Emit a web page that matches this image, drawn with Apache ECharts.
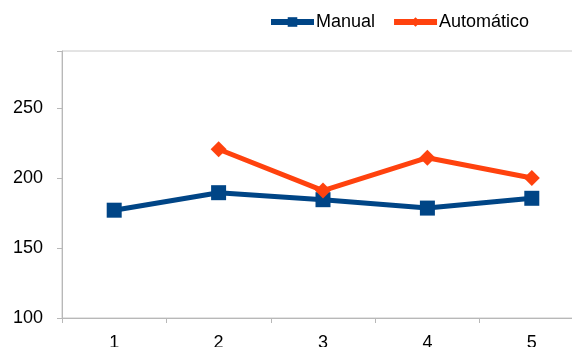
<!DOCTYPE html>
<html>
<head>
    <meta charset="utf-8">
    <title>Manual vs Automático</title>
    <script src="https://cdn.jsdelivr.net/npm/echarts@6/dist/echarts.min.js"></script>
</head>
<body style="margin:0;background:#fff;overflow:hidden;">
    <!-- plot area runs past the right edge of the window, like the original -->
    <div id="main" style="width:584px;height:347px;"></div>
    <script type="text/javascript">
        var categories = ['1', '2', '3', '4', '5'];
        var manual = [177, 189.5, 184.5, 178.5, 185.5];
        var automatico = [null, 220.5, 191, 214.5, 200];
        var yTicks = [100, 150, 200, 250];

        var myChart = echarts.init(document.getElementById('main'));

        var labelStyle = {
            color: '#000',
            fontFamily: 'Liberation Sans',
            fontSize: 18
        };

        var option = {
            backgroundColor: '#fff',
            animation: false,
            legend: {
                top: 8,
                left: 263,
                itemWidth: 43,
                itemHeight: 12,
                itemGap: 16,
                lineStyle: { width: 6 },
                textStyle: { color: '#000', fontFamily: 'Liberation Sans', fontSize: 18, padding: [0, 0, 0, -3] },
                data: ['Manual', 'Automático']
            },
            grid: {
                left: 62,
                top: 51,
                right: 0,
                bottom: 29,
                outerBoundsMode: 'none',   // labels may be clipped at the bottom edge
                show: true,
                borderColor: '#c8c8c8',
                borderWidth: 1
            },
            xAxis: {
                type: 'category',
                data: categories,
                boundaryGap: true,
                axisLine: { lineStyle: { color: '#b8b8b8', width: 1 } },
                axisTick: { show: true, length: 5, lineStyle: { color: '#b8b8b8' } },
                axisLabel: Object.assign({ margin: 16 }, labelStyle),
                splitLine: { show: false }
            },
            yAxis: {
                type: 'value',
                min: yTicks[0],
                max: 290.7,
                interval: 50,
                axisLine: { show: true, lineStyle: { color: '#b8b8b8', width: 1 } },
                axisTick: { show: true, length: 5, lineStyle: { color: '#b8b8b8' } },
                axisLabel: Object.assign({
                    margin: 19,
                    formatter: function (v) {
                        return yTicks.indexOf(v) >= 0 ? String(v) : '';
                    }
                }, labelStyle),
                splitLine: { show: false }
            },
            series: [
                {
                    name: 'Manual',
                    type: 'line',
                    data: manual,
                    symbol: 'rect',
                    symbolSize: 15,
                    lineStyle: { color: '#004586', width: 5 },
                    itemStyle: { color: '#004586' }
                },
                {
                    name: 'Automático',
                    type: 'line',
                    data: automatico,
                    connectNulls: false,
                    symbol: 'diamond',
                    symbolSize: 16,
                    lineStyle: { color: '#ff420e', width: 5 },
                    itemStyle: { color: '#ff420e' }
                }
            ]
        };

        myChart.setOption(option);
    </script>
</body>
</html>
